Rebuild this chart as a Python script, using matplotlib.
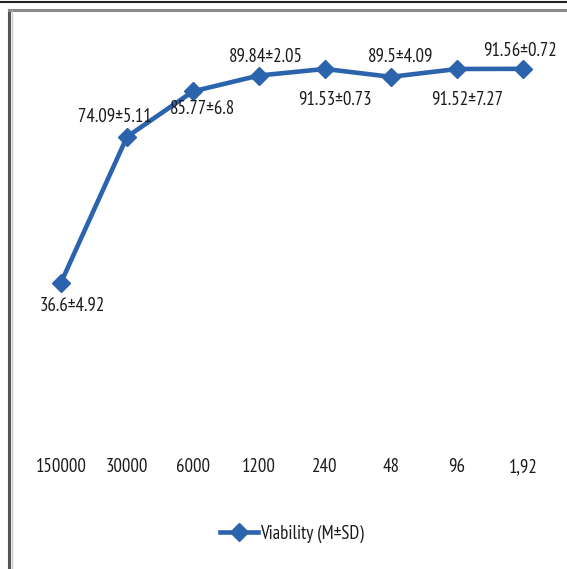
import matplotlib
matplotlib.use("Agg")
import matplotlib.pyplot as plt
from matplotlib.lines import Line2D

# Data
categories = ["150000", "30000", "6000", "1200", "240", "48", "96", "1,92"]
viability = [36.6, 74.09, 85.77, 89.84, 91.53, 89.5, 91.52, 91.56]
sd = [4.92, 5.11, 6.8, 2.05, 0.73, 4.09, 7.27, 0.72]

plt.rcParams["font.family"] = ["PT Sans Narrow", "DejaVu Sans"]

W, H = 567, 569
fig = plt.figure(figsize=(W / 100, H / 100), dpi=100)
ax = fig.add_axes([28 / W, 1 - 425 / H, (556 - 28) / W, (425 - 36) / H])

color = "#2B63AC"
txt = "#1a1a1a"
fs = 13.5
x = list(range(len(categories)))
ax.plot(x, viability, color=color, lw=3.3, marker="D", ms=9.5,
        markeredgecolor=color, label="Viability (M\u00b1SD)", solid_joinstyle="miter")

# value labels (offsets in points)
offsets = [(8, -17), (-9, 14), (7, -13), (5, 13), (7, -22), (7, 14), (7, -22), (-2, 13)]
for i, (v, s) in enumerate(zip(viability, sd)):
    dx, dy = offsets[i]
    ax.annotate(f"{v:g}\u00b1{s:g}", (i, v), xytext=(dx, dy), textcoords="offset points",
                ha="center", va="center", fontsize=fs, color=txt)

ax.set_xlim(-0.5, len(categories) - 0.5)
ax.set_ylim(0, 100)
ax.set_xticks(x)
ax.set_xticklabels(categories, fontsize=fs, color=txt)
ax.tick_params(axis="x", length=0, pad=24)
ax.set_yticks([])
for sp in ax.spines.values():
    sp.set_visible(False)

leg = fig.legend(loc="center", bbox_to_anchor=(292 / W, 1 - 534 / H), frameon=False,
                 fontsize=fs, handlelength=2.0, handletextpad=0.1)
for t in leg.get_texts():
    t.set_color(txt)

# frame lines
fig.add_artist(Line2D([0, 1], [1 - 1.5 / H, 1 - 1.5 / H], transform=fig.transFigure, color="#222222", lw=1.5))
fig.add_artist(Line2D([9 / W, 9 / W], [0, 1 - 9.5 / H], transform=fig.transFigure, color="#555555", lw=2.2))
fig.add_artist(Line2D([9 / W, 1], [1 - 10 / H, 1 - 10 / H], transform=fig.transFigure, color="#8a8a8a", lw=2.2))
fig.add_artist(Line2D([11.5 / W, 11.5 / W], [0, 1 - 11 / H], transform=fig.transFigure, color="#c8c8c8", lw=1))

fig.savefig("out.png", dpi=100)
